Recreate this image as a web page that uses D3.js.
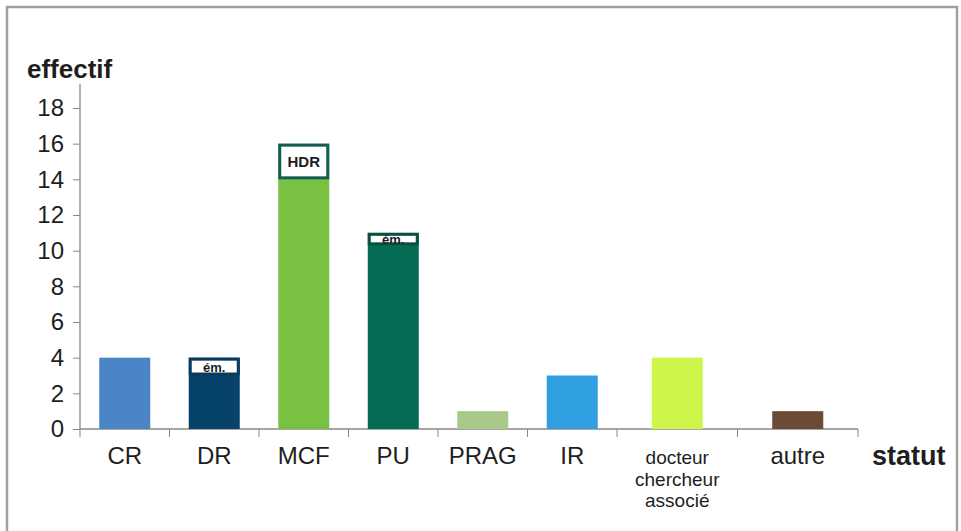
<!DOCTYPE html>
<html>
<head>
<meta charset="utf-8">
<script src="https://cdn.jsdelivr.net/npm/d3@7"></script>
<style>
  body { margin: 0; background: #fff; }
  text { font-family: "Liberation Sans", Arial, sans-serif; fill: #1e1e1e; }
</style>
</head>
<body>
<script>
(function(){

// data
var categories = ["CR", "DR", "MCF", "PU", "PRAG", "IR", "docteur chercheur associé", "autre"];
var baseValues = [4, 3, 14, 10.3, 1, 3, 4, 1];      // plain part of each bar
var boxValues  = [0, 1, 2, 0.7, 0, 0, 0, 0];        // boxed part at the top
var boxLabels  = ["", "ém.", "HDR", "ém.", "", "", "", ""];
var barColors  = ["#4a86c6", "#06426a", "#7ac143", "#066b55", "#a8c98a", "#2f9fe0", "#cdf54a", "#6b4a36"];
var boxStroke  = ["", "#0a3a5c", "#135e52", "#0a4f44", "", "", "", ""];
var yTicks = [0, 2, 4, 6, 8, 10, 12, 14, 16, 18];

var width = 961, height = 531;

var svg = d3.select("body").append("svg")
    .attr("width", width)
    .attr("height", height);

// outer frame
svg.append("rect")
    .attr("x", 7).attr("y", 7)
    .attr("width", 950).attr("height", 530)
    .attr("fill", "none")
    .attr("stroke", "#a0a0a0")
    .attr("stroke-width", 2.5);

// scales: category index -> px (last two slots are wider in the original)
var x = d3.scaleLinear()
    .domain([0, 6, 8])
    .range([80, 617, 858]);

var y = d3.scaleLinear()
    .domain([0, 18])
    .range([429, 108]);

var barW = 51;

// y axis
var yAxis = d3.axisLeft(y)
    .tickValues(yTicks)
    .tickSize(7)
    .tickPadding(9);

var gy = svg.append("g")
    .attr("transform", "translate(80,0)")
    .call(yAxis);
gy.select(".domain").remove();
gy.selectAll(".tick line").attr("stroke", "#888");
gy.selectAll(".tick text")
    .style("font-size", "24px")
    .attr("fill", "#1e1e1e");

svg.append("line")
    .attr("x1", 80).attr("x2", 80)
    .attr("y1", 84).attr("y2", y(0))
    .attr("stroke", "#888").attr("stroke-width", 1.3);

// x axis
svg.append("line")
    .attr("x1", x(0)).attr("x2", x(categories.length))
    .attr("y1", y(0)).attr("y2", y(0))
    .attr("stroke", "#888").attr("stroke-width", 1.5);

svg.selectAll(".xtick")
    .data(d3.range(categories.length + 1))
    .enter().append("line")
    .attr("class", "xtick")
    .attr("x1", function(d){ return x(d); })
    .attr("x2", function(d){ return x(d); })
    .attr("y1", y(0))
    .attr("y2", y(0) + 8)
    .attr("stroke", "#888");

// bars
var bars = svg.selectAll(".bar")
    .data(categories)
    .enter().append("g")
    .attr("class", "bar");

bars.append("rect")
    .attr("x", function(d, i){ return x(i + 0.5) - barW / 2; })
    .attr("y", function(d, i){ return y(baseValues[i] + boxValues[i]); })
    .attr("width", barW)
    .attr("height", function(d, i){ return y(0) - y(baseValues[i] + boxValues[i]); })
    .attr("fill", function(d, i){ return barColors[i]; });

// boxed tops
var boxed = bars.filter(function(d, i){ return boxValues[i] > 0; });

boxed.append("rect")
    .attr("x", function(d){ var i = categories.indexOf(d); return x(i + 0.5) - barW / 2 + 1.5; })
    .attr("y", function(d){ var i = categories.indexOf(d); return y(baseValues[i] + boxValues[i]) + 1.5; })
    .attr("width", barW - 3)
    .attr("height", function(d){ var i = categories.indexOf(d); return y(baseValues[i]) - y(baseValues[i] + boxValues[i]) - 3; })
    .attr("fill", "#fff")
    .attr("stroke", function(d){ return boxStroke[categories.indexOf(d)]; })
    .attr("stroke-width", 3);

boxed.append("text")
    .attr("x", function(d){ return x(categories.indexOf(d) + 0.5); })
    .attr("y", function(d){ var i = categories.indexOf(d); return (y(baseValues[i]) + y(baseValues[i] + boxValues[i])) / 2 + 5; })
    .attr("text-anchor", "middle")
    .style("font-size", function(d){ return boxLabels[categories.indexOf(d)] === "HDR" ? "15px" : "13px"; })
    .style("font-weight", "bold")
    .text(function(d){ return boxLabels[categories.indexOf(d)]; });

// category labels
var labels = svg.selectAll(".xlabel")
    .data(categories)
    .enter().append("text")
    .attr("class", "xlabel")
    .attr("text-anchor", "middle")
    .attr("transform", function(d, i){ return "translate(" + x(i + 0.5) + ",464)"; })
    .style("font-size", function(d){ return d.indexOf(" ") > 0 ? "19px" : "24px"; });

labels.each(function(d){
    var words = d.split(" ");
    var t = d3.select(this);
    words.forEach(function(w, k){
        t.append("tspan")
            .attr("x", 0)
            .attr("dy", k === 0 ? 0 : 21.5)
            .text(w);
    });
});

// axis titles
svg.append("text")
    .attr("x", 27).attr("y", 78)
    .style("font-size", "26px")
    .style("font-weight", "bold")
    .text("effectif");

svg.append("text")
    .attr("x", 872).attr("y", 465)
    .style("font-size", "27px")
    .style("font-weight", "bold")
    .text("statut");

})();
</script>
</body>
</html>
